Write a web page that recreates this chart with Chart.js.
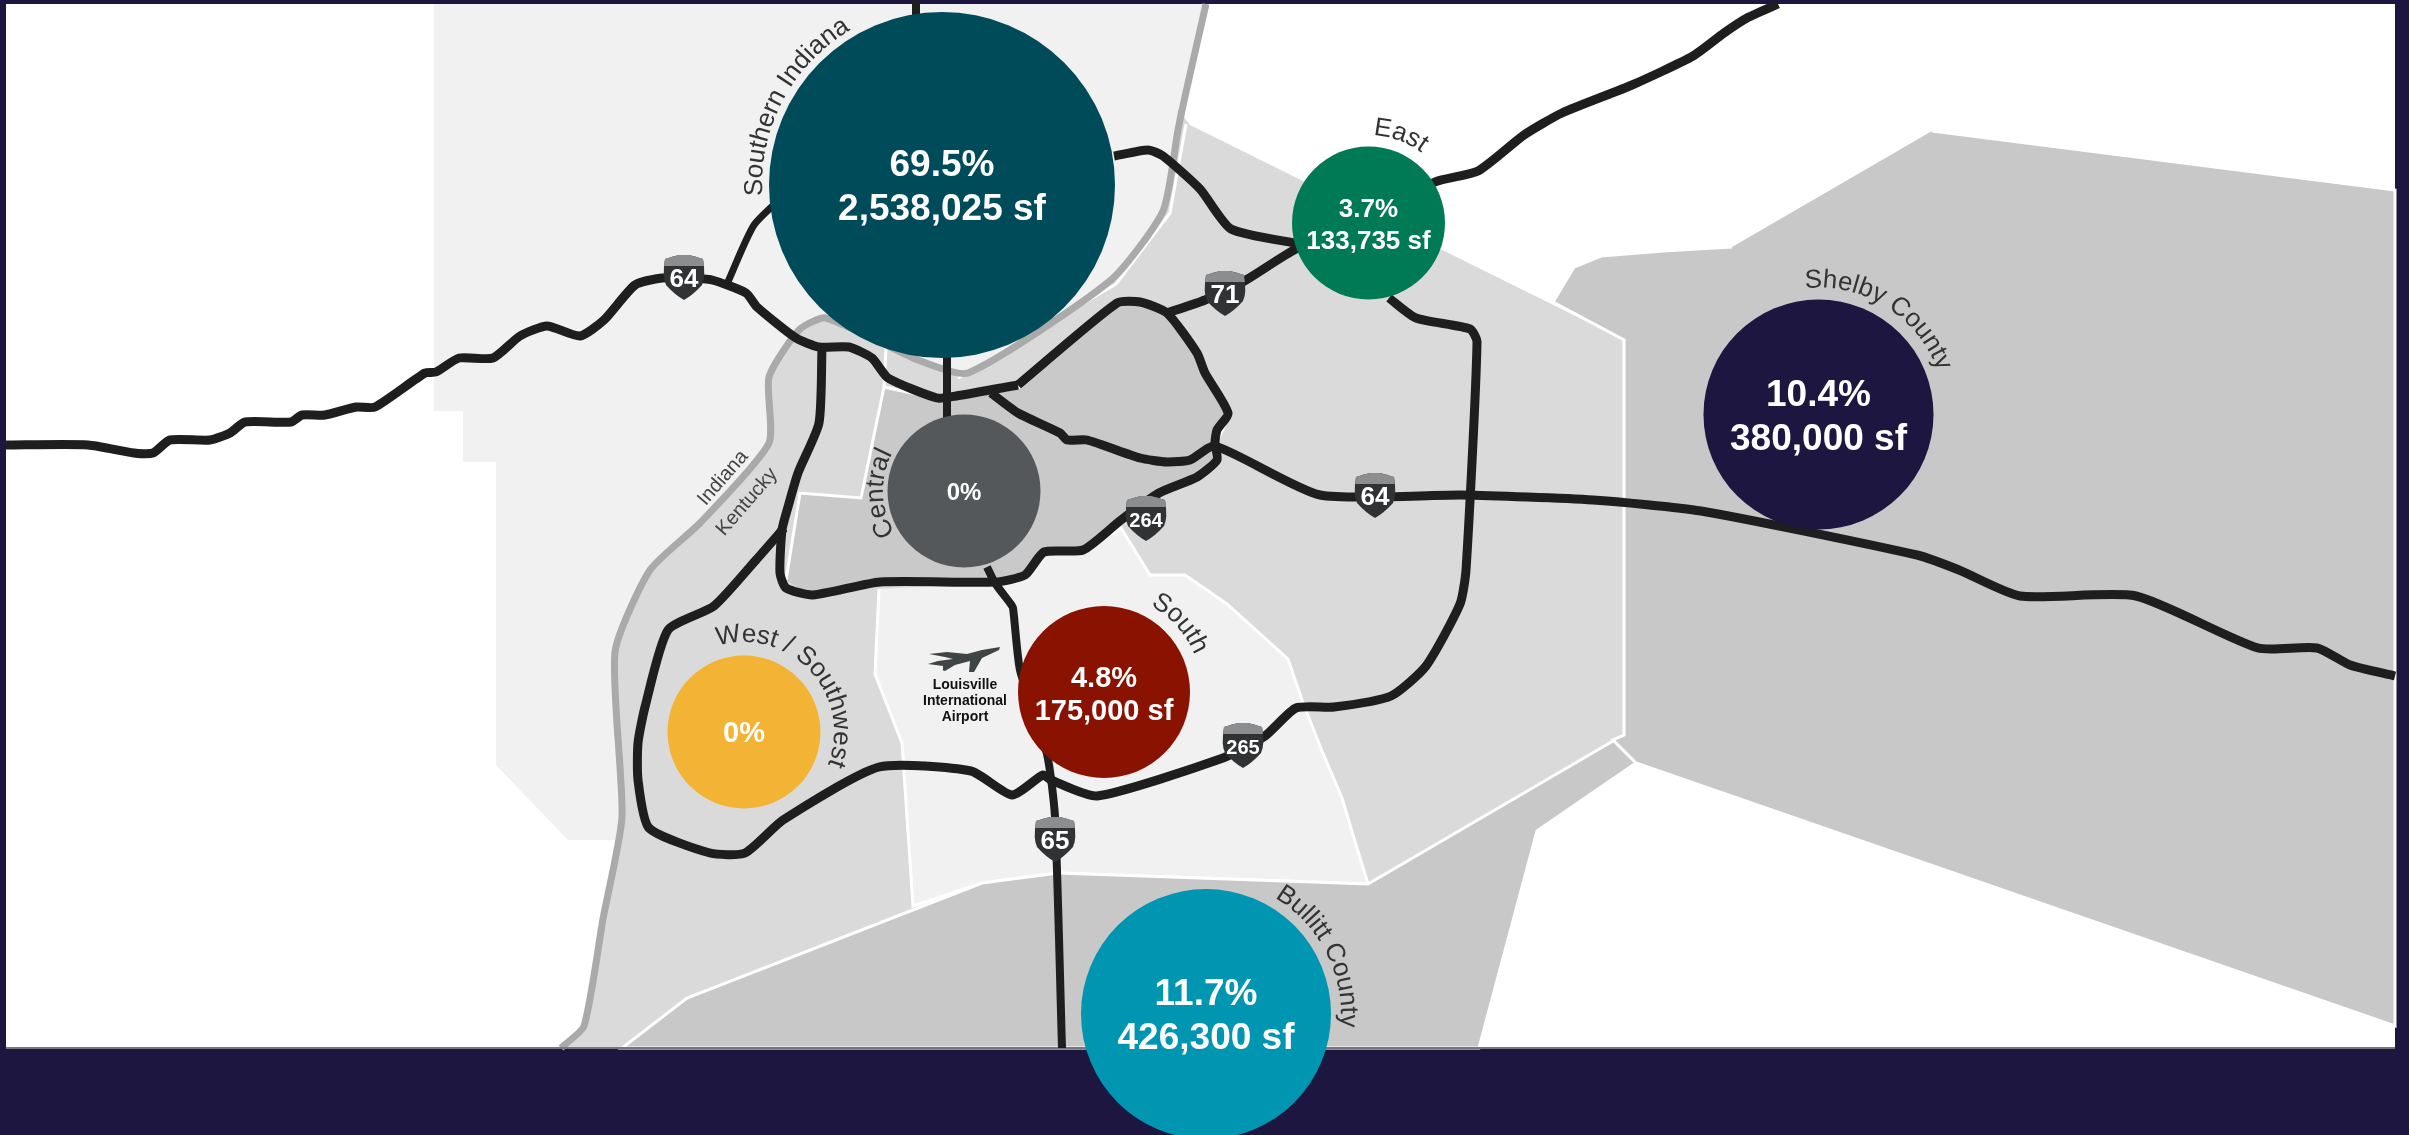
<!DOCTYPE html>
<html>
<head>
<meta charset="utf-8">
<title>Louisville submarkets</title>
<script src="https://cdn.jsdelivr.net/npm/chart.js@4"></script>
<style>
  html, body { margin: 0; padding: 0; background: #1c1640; }
  canvas { display: block; }
</style>
</head>
<body>
<canvas id="mapChart" width="2409" height="1135"></canvas>
<script>
// submarkets
const categories = ['Southern Indiana', 'Central', 'East', 'Shelby County', 'South', 'West / Southwest', 'Bullitt County'];
const sharePct = [69.5, 0, 3.7, 10.4, 4.8, 0, 11.7];
const squareFeet = [2538025, null, 133735, 380000, 175000, null, 426300];
const bubbleX = [942, 964, 1368.5, 1818.5, 1104, 744, 1206];
const bubbleY = [185, 491, 223, 414.5, 692, 732, 1014];
const bubbleR = [173, 76.5, 76.5, 115, 86, 76.5, 125];
const bubbleColors = ['#004b5a', '#54585a', '#007a55', '#1c1640', '#8a1200', '#f3b335', '#0095b0'];

// map geometry, in map units
const panel = [[6, 4], [2395, 4], [2395, 1048], [6, 1048]];
const indiana = [[434, 4], [434, 411], [463, 411], [463, 462], [496, 462], [496, 765], [568, 840], [618, 840], [622, 817], [615, 652], [650, 570], [700, 523], [769, 443], [769, 377], [799, 330], [826, 318], [918, 360], [968, 373], [1111, 280], [1163, 211], [1178, 109], [1206, 4]];
const kentucky = [[1190, 125], [1624, 340], [1625, 745], [1368, 884], [982, 883], [687, 998], [622, 1048], [561, 1048], [584, 1026], [603, 919], [622, 817], [615, 652], [650, 570], [700, 523], [769, 443], [769, 377], [799, 330], [826, 318], [918, 360], [968, 373], [1111, 280], [1163, 211], [1178, 109]];
const south = [[879, 589], [875, 674], [902, 743], [913, 906], [982, 883], [1058, 873], [1368, 884], [1353, 835], [1342, 798], [1322, 751], [1303, 703], [1288, 659], [1227, 604], [1185, 575], [1150, 575], [1121, 528], [1083, 550], [1046, 552], [1025, 577], [991, 583]];
const central = [[786, 580], [800, 493], [861, 498], [884, 387], [930, 397], [991, 393], [1021, 387], [1117, 303], [1140, 302], [1167, 313], [1197, 353], [1230, 413], [1215, 447], [1217, 463], [1159, 493], [1121, 520], [1083, 550], [1044, 552], [1025, 575], [991, 583], [880, 582], [811, 595]];
const bullitt = [[1636, 763], [1537, 831], [1479, 1048], [622, 1048], [687, 998], [982, 883], [1058, 873], [1368, 884], [1613, 741]];
const shelby = [[1932, 131], [2395, 190], [2395, 1026], [1636, 763], [1613, 740], [1624, 735], [1624, 340], [1553, 302], [1574, 267], [1601, 256], [1663, 251], [1732, 247]];
const plane = [[1000, 647], [999, 650], [982, 658], [974, 672], [969, 672], [970, 661], [955, 665], [945, 671], [942, 670], [943, 666], [928, 664], [938, 661], [953, 659], [945, 657], [929, 654], [947, 652], [967, 654], [982, 650]];

const districtLine = [[886, 348], [884, 387]];
const riverBank = [[958, 378], [1116, 284], [1170, 213], [1186, 124]];
const river = [[1206, 4], [1186, 92], [1178, 130], [1163, 211], [1111, 280], [968, 373], [918, 360], [826, 318], [799, 330], [769, 377], [769, 443], [700, 523], [650, 570], [615, 652], [622, 817], [603, 919], [584, 1026], [561, 1048]];
const bottomEdge = [[6, 1048], [2395, 1048]];

// highways
const i64West = [[6, 445], [88, 445], [134, 453], [153, 453], [170, 440], [210, 440], [230, 433], [245, 422], [291, 422], [302, 415], [325, 415], [356, 407], [375, 407], [425, 373], [436, 372], [459, 358], [493, 358], [520, 336], [547, 326], [580, 336], [604, 320], [635, 285], [662, 278], [685, 278], [712, 280], [746, 293], [757, 307], [796, 338], [819, 347], [849, 347], [872, 358], [888, 378], [937, 398], [956, 396], [1018, 385]];
const i264Ring = [[1018, 385], [1117, 303], [1140, 302], [1167, 313], [1197, 353], [1205, 373], [1228, 413], [1217, 430], [1215, 443], [1217, 460], [1197, 477], [1159, 493], [1121, 520], [1083, 550], [1044, 552], [1025, 575], [995, 582], [880, 582], [813, 595], [786, 588], [780, 573], [782, 530], [788, 507], [798, 473], [819, 423], [822, 347]];
const i64East = [[991, 393], [1018, 413], [1060, 433], [1067, 440], [1087, 440], [1140, 458], [1167, 462], [1190, 460], [1215, 446], [1320, 495], [1462, 495], [1593, 500], [1701, 511], [1917, 555], [1959, 570], [2020, 596], [2136, 596], [2258, 648], [2317, 648], [2350, 665], [2395, 676]];
const i71 = [[1167, 313], [1205, 300], [1246, 280], [1296, 249], [1340, 235], [1435, 182], [1478, 171], [1524, 135], [1562, 113], [1632, 85], [1693, 56], [1724, 33], [1747, 18], [1778, 4]];
const i265 = [[1389, 298], [1416, 318], [1470, 329], [1477, 342], [1466, 570], [1460, 604], [1426, 666], [1391, 696], [1334, 707], [1296, 708], [1265, 736], [1223, 758], [1097, 796], [1051, 780], [1043, 775], [1012, 795], [971, 771], [879, 767], [783, 820], [745, 853], [710, 853], [649, 828], [638, 780], [638, 743], [645, 707], [668, 630], [714, 606], [756, 560], [784, 528]];
const i265North = [[1114, 156], [1148, 150], [1163, 156], [1200, 189], [1231, 229], [1300, 244]];
const indianaSpur = [[727, 284], [754, 225], [790, 190]];
const i65 = [[916, 4], [916, 40]];
const i65Mid = [[947, 320], [947, 420]];
const i65South = [[987, 567], [995, 583], [1010, 603], [1013, 608], [1020, 670], [1047, 754], [1055, 817], [1062, 1048]];

const shieldNames = ['64', '71', '264', '64', '265', '65'];
const shieldX = [684, 1225, 1146, 1375, 1243, 1055];
const shieldY = [277, 293, 518, 495, 745, 839];

// curved names around the bubbles: mid angle in degrees clockwise from top
const arcNames = ['Southern Indiana', 'Central', 'East', 'Shelby County', 'South', 'West / Southwest', 'Bullitt County'];
const arcMidAngle = [-62, -92, 20, 32, 48, 47, 63];
const arcRadius = [180, 81, 88, 127, 98, 90, 135];

const FONT = '"Liberation Sans", Arial, sans-serif';

const pts = (a) => a.map(p => ({ x: p[0], y: p[1] }));

function area(data, color, border) {
  return {
    type: 'line', data: pts(data), fill: 'shape', backgroundColor: color,
    borderColor: border || color, borderWidth: border ? 3 : 0, pointRadius: 0, tension: 0
  };
}
function stroke(data, color, width, tension) {
  return {
    type: 'line', data: pts(data), fill: false, borderColor: color, borderWidth: width,
    borderJoinStyle: 'round', borderCapStyle: 'butt', pointRadius: 0, tension: tension || 0
  };
}

const ROAD = '#1e1e1e';
const layers = [
  area(panel, '#ffffff'),
  area(indiana, '#f1f1f1'),
  area(kentucky, '#dadada'),
  area(south, '#f1f1f1', '#ffffff'),
  area(central, '#c9c9c9', '#ffffff'),
  area(bullitt, '#c8c8c8', '#ffffff'),
  area(shelby, '#c8c8c8', '#ffffff'),
  area(plane, '#3f4444'),
  stroke(districtLine, '#ffffff', 3),
  stroke(riverBank, '#ffffff', 3),
  stroke(river, '#aaaaaa', 7, 0.2),
  stroke(bottomEdge, '#777777', 2),
  stroke(i64West, ROAD, 9, 0.2),
  stroke(i264Ring, ROAD, 9, 0.2),
  stroke(i64East, ROAD, 9, 0.2),
  stroke(i71, ROAD, 9, 0.2),
  stroke(i265, ROAD, 9, 0.2),
  stroke(i265North, ROAD, 9, 0.2),
  stroke(indianaSpur, ROAD, 7, 0.2),
  stroke(i65, ROAD, 8),
  stroke(i65Mid, ROAD, 8),
  stroke(i65South, ROAD, 8, 0.2),
  {
    type: 'bubble',
    label: 'Share of space',
    data: categories.map((c, i) => ({ x: bubbleX[i], y: bubbleY[i], r: bubbleR[i] })),
    backgroundColor: bubbleColors,
    borderWidth: 0,
    clip: false
  }
];
// later layers sit on top
layers.forEach((d, i) => { d.order = layers.length - i; });

function drawShield(ctx, cx, cy, name) {
  const w = 21, top = cy - 22;
  ctx.beginPath();
  ctx.moveTo(cx - w + 2, top + 4);
  ctx.quadraticCurveTo(cx - 10, top + 1, cx - 5, top);
  ctx.lineTo(cx + 5, top);
  ctx.quadraticCurveTo(cx + 10, top + 1, cx + w - 2, top + 4);
  ctx.quadraticCurveTo(cx + w + 1, top + 22, cx + w - 3, top + 30);
  ctx.quadraticCurveTo(cx + 9, top + 40, cx, top + 45);
  ctx.quadraticCurveTo(cx - 9, top + 40, cx - w + 3, top + 30);
  ctx.quadraticCurveTo(cx - w - 1, top + 22, cx - w + 2, top + 4);
  ctx.closePath();
  ctx.fillStyle = '#303233';
  ctx.fill();
  ctx.save();
  ctx.clip();
  ctx.fillStyle = '#8b8d8e';
  ctx.fillRect(cx - w - 2, top, 2 * w + 4, 11);
  ctx.restore();
  ctx.fillStyle = '#ffffff';
  ctx.textAlign = 'center';
  ctx.textBaseline = 'middle';
  ctx.font = 'bold ' + (name.length > 2 ? 20 : 26) + 'px ' + FONT;
  ctx.fillText(name, cx, top + 25);
}

function drawArcText(ctx, text, cx, cy, radius, midDeg) {
  ctx.font = '26px ' + FONT;
  ctx.fillStyle = '#333333';
  ctx.textAlign = 'left';
  ctx.textBaseline = 'alphabetic';
  const total = ctx.measureText(text).width;
  let run = 0;
  for (let i = 0; i < text.length; i++) {
    const adv = ctx.measureText(text.slice(0, i + 1)).width;
    const w = adv - run;
    const a = midDeg * Math.PI / 180 + (run + w / 2 - total / 2) / radius;
    ctx.save();
    ctx.translate(cx + radius * Math.sin(a), cy - radius * Math.cos(a));
    ctx.rotate(a);
    ctx.fillText(text[i], -w / 2, 0);
    ctx.restore();
    run = adv;
  }
}

const mapLabels = {
  id: 'mapLabels',
  afterDatasetsDraw(chart) {
    const { ctx, scales: { x, y } } = chart;
    ctx.save();

    shieldNames.forEach((n, i) => {
      drawShield(ctx, x.getPixelForValue(shieldX[i]), y.getPixelForValue(shieldY[i]), n);
    });

    arcNames.forEach((n, i) => {
      drawArcText(ctx, n, x.getPixelForValue(bubbleX[i]), y.getPixelForValue(bubbleY[i]), arcRadius[i], arcMidAngle[i]);
    });

    // state line names
    ctx.font = '20px ' + FONT;
    ctx.fillStyle = '#444444';
    ctx.textAlign = 'center';
    ctx.textBaseline = 'middle';
    [['Indiana', 723, 478], ['Kentucky', 747, 502]].forEach(t => {
      ctx.save();
      ctx.translate(x.getPixelForValue(t[1]), y.getPixelForValue(t[2]));
      ctx.rotate(-49 * Math.PI / 180);
      ctx.fillText(t[0], 0, 0);
      ctx.restore();
    });

    // airport
    ctx.font = 'bold 14px ' + FONT;
    ctx.fillStyle = '#111111';
    [['Louisville', 685], ['International', 701], ['Airport', 717]].forEach(t => {
      ctx.fillText(t[0], x.getPixelForValue(965), y.getPixelForValue(t[1]));
    });

    // bubble text
    ctx.fillStyle = '#ffffff';
    const sizes = [37, 24, 26, 37, 29, 29, 37];
    const gaps = [44, 0, 32, 44, 33, 0, 44];
    categories.forEach((c, i) => {
      const px = x.getPixelForValue(bubbleX[i]);
      const py = y.getPixelForValue(bubbleY[i]);
      ctx.font = 'bold ' + sizes[i] + 'px ' + FONT;
      ctx.textBaseline = 'middle';
      const pct = sharePct[i] + '%';
      if (squareFeet[i] === null) {
        ctx.fillText(pct, px, py + 2);
      } else {
        ctx.fillText(pct, px, py + 3 - gaps[i] / 2);
        ctx.fillText(squareFeet[i].toLocaleString('en-US') + ' sf', px, py + 3 + gaps[i] / 2);
      }
    });
    ctx.restore();
  }
};

new Chart(document.getElementById('mapChart').getContext('2d'), {
  type: 'line',
  data: { datasets: layers },
  options: {
    responsive: false,
    animation: false,
    devicePixelRatio: 1,
    layout: { padding: 0, autoPadding: false },
    events: [],
    plugins: { legend: { display: false }, tooltip: { enabled: false } },
    scales: {
      x: { type: 'linear', min: 0, max: 2409, display: false },
      y: { type: 'linear', min: 0, max: 1135, reverse: true, display: false }
    }
  },
  plugins: [mapLabels]
});
</script>
</body>
</html>
